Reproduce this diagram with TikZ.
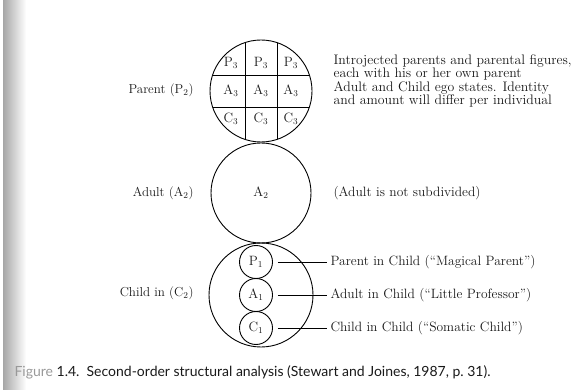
\documentclass[tikz,border=0pt]{standalone}
\usepackage{fontspec}
\newfontfamily\capfont{Lato}
\usetikzlibrary{positioning}

\begin{document}
\begin{tikzpicture}[x=1pt, y=-1pt,
    every node/.style={font=\fontsize{13.5}{14}\selectfont, text=black!90},
    ego/.style={draw, circle, line width=0.9pt, inner sep=0pt},
    subego/.style={ego, minimum size=33pt},
    side/.style={anchor=east, font=\fontsize{13}{14}\selectfont},
    note/.style={anchor=west},
    lead/.style={line width=0.8pt}]

\useasboundingbox (0,0) rectangle (581,390);
\shade[left color=black!35, right color=white] (3,0) rectangle (26,390);

% second-order ego states
\node[ego, minimum size=102pt] (parent) at (261,91) {};
\node[ego, minimum size=100pt] (adult) at (261,193) {A$_2$};
\node[ego, minimum size=104pt] (child) at (261,295) {};

% grid of introjected parents
\begin{scope}
\clip (parent.center) circle[radius=51pt];
\draw[line width=0.9pt] (245,30) -- (245,150) (277,30) -- (277,150)
    (200,75) -- (320,75) (200,107) -- (320,107);
\end{scope}
\foreach \r/\y in {P/63, A/91, C/119}
  \foreach \x [count=\i] in {231,261,291}
    \node (\r3\i) at (\x,\y) {\r$_3$};

% ego states in the child
\foreach \s/\y in {P/262, A/295, C/328}
  \node[subego] (\s1) at (256,\y) {\s$_1$};

\node[side] (parentlabel) at (197,90) {Parent (P$_2$)};
\node[side] (adultlabel) at (197,193) {Adult (A$_2$)};
\node[side] (childlabel) at (197,293) {Child in (C$_2$)};

\node[note, align=left, font=\fontsize{13.8}{13.6}\selectfont] (introjects) at (330,81)
  {Introjected parents and parental figures,\\each with his or her own parent\\Adult and Child ego states. Identity\\and amount will differ per individual};
\node[note] (adultnote) at (330,193) {(Adult is not subdivided)};

\node[note] (ptext) at (327,262) {Parent in Child (``Magical Parent'')};
\node[note] (atext) at (327,295) {Adult in Child (``Little Professor'')};
\node[note] (ctext) at (327,328) {Child in Child (``Somatic Child'')};
\draw[lead] ([xshift=5pt]P1.east) -- (ptext.west);
\draw[lead] ([xshift=5pt]A1.east) -- (atext.west);
\draw[lead] ([xshift=5pt]C1.east) -- (ctext.west);

\node[note, font=\capfont\fontsize{14}{16}\selectfont] (caption) at (11,372)
  {\textcolor{black!40}{Figure} 1.4.\ \ Second-order structural analysis (Stewart and Joines, 1987, p.~31).};
\end{tikzpicture}
\end{document}
